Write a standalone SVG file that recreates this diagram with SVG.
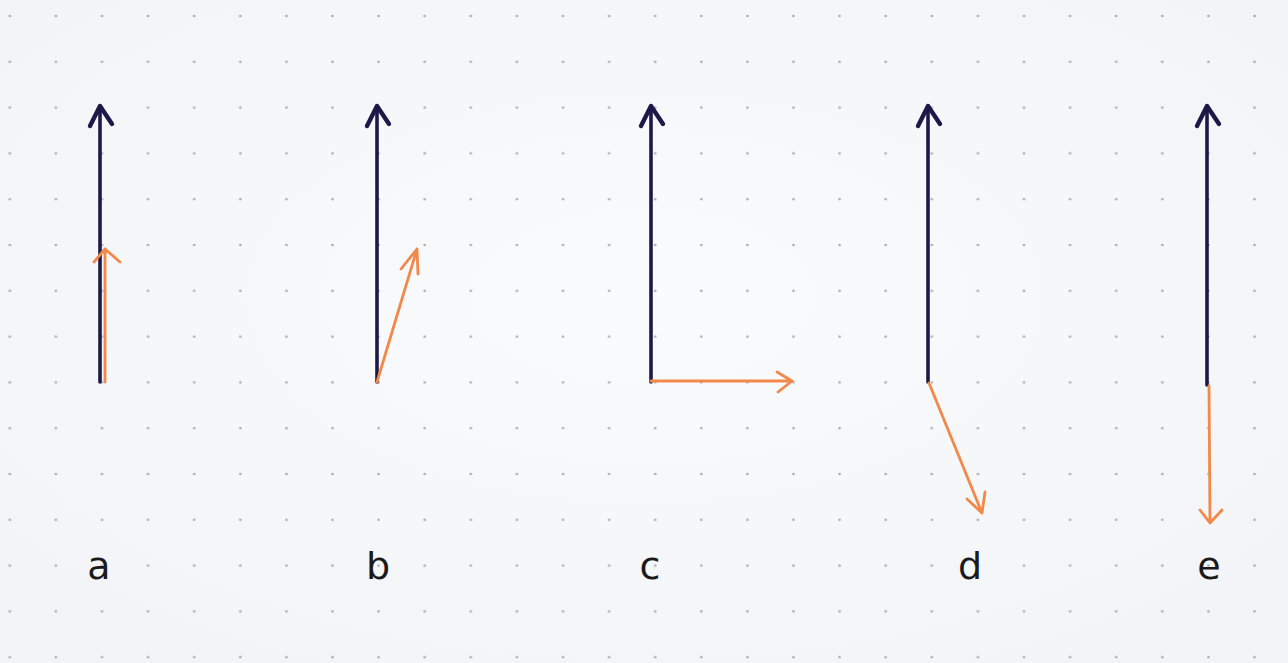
<svg xmlns="http://www.w3.org/2000/svg" width="1288" height="663" viewBox="0 0 1288 663">
  <defs>
    <pattern id="dots" patternUnits="userSpaceOnUse" x="-13.25" y="-6.9" width="46.1" height="45.8">
      <circle cx="23.05" cy="22.9" r="1.3" fill="#a6aab3"/>
    </pattern>
    <radialGradient id="paper" cx="0.5" cy="0.45" r="0.75">
      <stop offset="0" stop-color="#fafbfc"/>
      <stop offset="1" stop-color="#f1f3f6"/>
    </radialGradient>
    <style>
      .dark { stroke: #1e1848; stroke-width: 3.6; fill: none; stroke-linecap: round; stroke-linejoin: round; }
      .head { stroke-width: 4.4; }
      .org { stroke: #f2894a; stroke-width: 2.8; fill: none; stroke-linecap: round; stroke-linejoin: round; }
      .lbl { font-family: "DejaVu Sans", "Liberation Sans", sans-serif; font-size: 38px; fill: #1a1a1a; text-anchor: middle; }
    </style>
  </defs>
  <rect width="1288" height="663" fill="url(#paper)"/>
  <rect width="1288" height="663" fill="url(#dots)"/>

  <g id="a">
    <path class="dark" d="M100 382 V106"/>
    <path class="dark head" d="M90 126 L100 106 L112 124"/>
    <path class="org" d="M105 382 V249 M94 262 L105 249 L120 262"/>
    <text class="lbl" x="99" y="579">a</text>
  </g>
  <g id="b">
    <path class="dark" d="M377 382 V106"/>
    <path class="dark head" d="M367 126 L377 106 L389 124"/>
    <path class="org" d="M377 382 L417 249 M401 269 L417 249 L418 274"/>
    <text class="lbl" x="378" y="579">b</text>
  </g>
  <g id="c">
    <path class="dark" d="M651 382 V106"/>
    <path class="dark head" d="M641 126 L651 106 L663 124"/>
    <path class="org" d="M651 381 H792 M777 372 L792 381 L778 392"/>
    <text class="lbl" x="650" y="579">c</text>
  </g>
  <g id="d">
    <path class="dark" d="M928 382 V106"/>
    <path class="dark head" d="M918 126 L928 106 L940 124"/>
    <path class="org" d="M929 383 L982 513 M967 499 L982 513 L985 492"/>
    <text class="lbl" x="970" y="579">d</text>
  </g>
  <g id="e">
    <path class="dark" d="M1207 385 V106"/>
    <path class="dark head" d="M1197 126 L1207 106 L1219 124"/>
    <path class="org" d="M1209 386 L1210 523 M1200 510 L1210 523 L1222 510"/>
    <text class="lbl" x="1209" y="579">e</text>
  </g>
</svg>
